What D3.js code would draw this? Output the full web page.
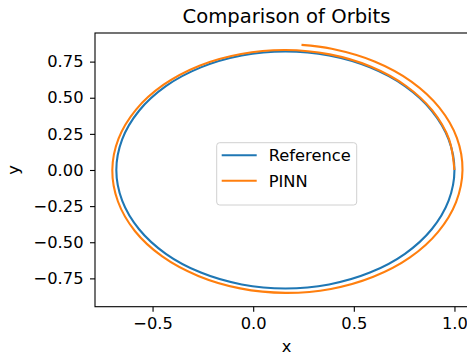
<!DOCTYPE html>
<html>
<head>
<meta charset="utf-8">
<script src="https://cdn.jsdelivr.net/npm/d3@7"></script>
<style>
  html, body { margin: 0; padding: 0; background: #fff; }
  svg { display: block; }
  text { font-family: "DejaVu Sans", sans-serif; fill: #000; }
</style>
</head>
<body>
<svg id="chart" width="467" height="355"></svg>
<script>
// ---- data ----
const referenceX = [1.000, 0.971, 0.887, 0.754, 0.580, 0.377, 0.160, -0.057, -0.260, -0.434, -0.567, -0.651,
  -0.680, -0.651, -0.567, -0.434, -0.260, -0.057, 0.160, 0.377, 0.580, 0.754, 0.887, 0.971];
const referenceY = [0.000, 0.212, 0.410, 0.580, 0.710, 0.792, 0.820, 0.792, 0.710, 0.580, 0.410, 0.212,
  0.000, -0.212, -0.410, -0.580, -0.710, -0.792, -0.820, -0.792, -0.710, -0.580, -0.410, -0.212];
const pinnX = [1.000, 0.973, 0.890, 0.758, 0.583, 0.380, 0.160, -0.060, -0.267, -0.445, -0.582, -0.669,
  -0.700, -0.672, -0.588, -0.452, -0.273, -0.065, 0.160, 0.386, 0.597, 0.779, 0.919, 1.008,
  1.040, 1.012, 0.925, 0.786, 0.603, 0.390, 0.240];
const pinnY = [0.000, 0.213, 0.412, 0.583, 0.716, 0.800, 0.830, 0.803, 0.722, 0.590, 0.418, 0.217,
  0.000, -0.218, -0.422, -0.598, -0.733, -0.819, -0.850, -0.823, -0.739, -0.605, -0.428, -0.222,
  0.000, 0.223, 0.432, 0.612, 0.751, 0.839, 0.866];
const xTicks = [-0.5, 0.0, 0.5, 1.0];
const yTicks = [-0.75, -0.5, -0.25, 0.0, 0.25, 0.5, 0.75];
const seriesNames = ["Reference", "PINN"];
const seriesColors = ["#1f77b4", "#ff7f0e"];
const titleText = "Comparison of Orbits";
const xLabel = "x";
const yLabel = "y";

// ---- layout ----
const svg = d3.select("#chart");
const mLeft = 95, mRight = 478, mTop = 33, mBottom = 306.7;
const x = d3.scaleLinear().domain([-0.786, 1.117]).range([mLeft, mRight]);
const y = d3.scaleLinear().domain([-0.946, 0.948]).range([mBottom, mTop]);
const tickFont = 16.3;

svg.append("defs").append("clipPath").attr("id", "clip")
  .append("rect").attr("x", mLeft).attr("y", mTop).attr("width", mRight - mLeft).attr("height", mBottom - mTop);

const line = d3.line().x(d => x(d[0])).y(d => y(d[1]));
const refPts = referenceX.map((v, i) => [v, referenceY[i]]);
const pinnPts = pinnX.map((v, i) => [v, pinnY[i]]);

const plot = svg.append("g").attr("clip-path", "url(#clip)");
plot.append("path").attr("d", line.curve(d3.curveCatmullRomClosed)(refPts))
  .attr("fill", "none").attr("stroke", seriesColors[0]).attr("stroke-width", 2.1);
plot.append("path").attr("d", line.curve(d3.curveCatmullRom)(pinnPts))
  .attr("fill", "none").attr("stroke", seriesColors[1]).attr("stroke-width", 2.1)
  .attr("stroke-linecap", "butt");

// axes
const fmtX = d => d3.format(".1f")(d).replace("-", "\u2212");
const fmtY = d => d3.format(".2f")(d).replace("-", "\u2212");
const xAxis = d3.axisBottom(x).tickValues(xTicks).tickFormat(fmtX).tickSizeOuter(0).tickSize(5).tickPadding(5.5);
const yAxis = d3.axisLeft(y).tickValues(yTicks).tickFormat(fmtY).tickSizeOuter(0).tickSize(5).tickPadding(6.5);
const gx = svg.append("g").attr("transform", `translate(0,${mBottom})`).call(xAxis);
const gy = svg.append("g").attr("transform", `translate(${mLeft},0)`).call(yAxis);
[gx, gy].forEach(g => {
  g.select(".domain").remove();
  g.selectAll(".tick line").attr("stroke", "#000").attr("stroke-width", 1.1);
  g.selectAll(".tick text").attr("font-size", tickFont).attr("font-family", "DejaVu Sans").attr("fill", "#000");
});
// spines
svg.append("rect").attr("x", mLeft).attr("y", mTop).attr("width", mRight - mLeft).attr("height", mBottom - mTop)
  .attr("fill", "none").attr("stroke", "#000").attr("stroke-width", 1.1);

// title & labels
svg.append("text").attr("x", (mLeft + mRight) / 2).attr("y", 23).attr("text-anchor", "middle")
  .attr("font-size", 19.6).text(titleText);
svg.append("text").attr("x", (mLeft + mRight) / 2).attr("y", 351.5).attr("text-anchor", "middle")
  .attr("font-size", tickFont).text(xLabel);
svg.append("text").attr("transform", `translate(19,${y(0)}) rotate(-90)`).attr("text-anchor", "middle")
  .attr("font-size", tickFont).text(yLabel);

// legend
const lg = svg.append("g").attr("transform", "translate(216.7,142.7)");
lg.append("rect").attr("width", 140).attr("height", 62.3).attr("rx", 3)
  .attr("fill", "#fff").attr("fill-opacity", 0.8).attr("stroke", "#d0d0d0").attr("stroke-width", 1);
seriesNames.forEach((name, i) => {
  const yy = 12.5 + i * 25.5;
  lg.append("line").attr("x1", 5).attr("x2", 40).attr("y1", yy).attr("y2", yy)
    .attr("stroke", seriesColors[i]).attr("stroke-width", 2.1);
  lg.append("text").attr("x", 52).attr("y", yy).attr("dy", "0.36em").attr("font-size", tickFont).text(name);
});
</script>
</body>
</html>
